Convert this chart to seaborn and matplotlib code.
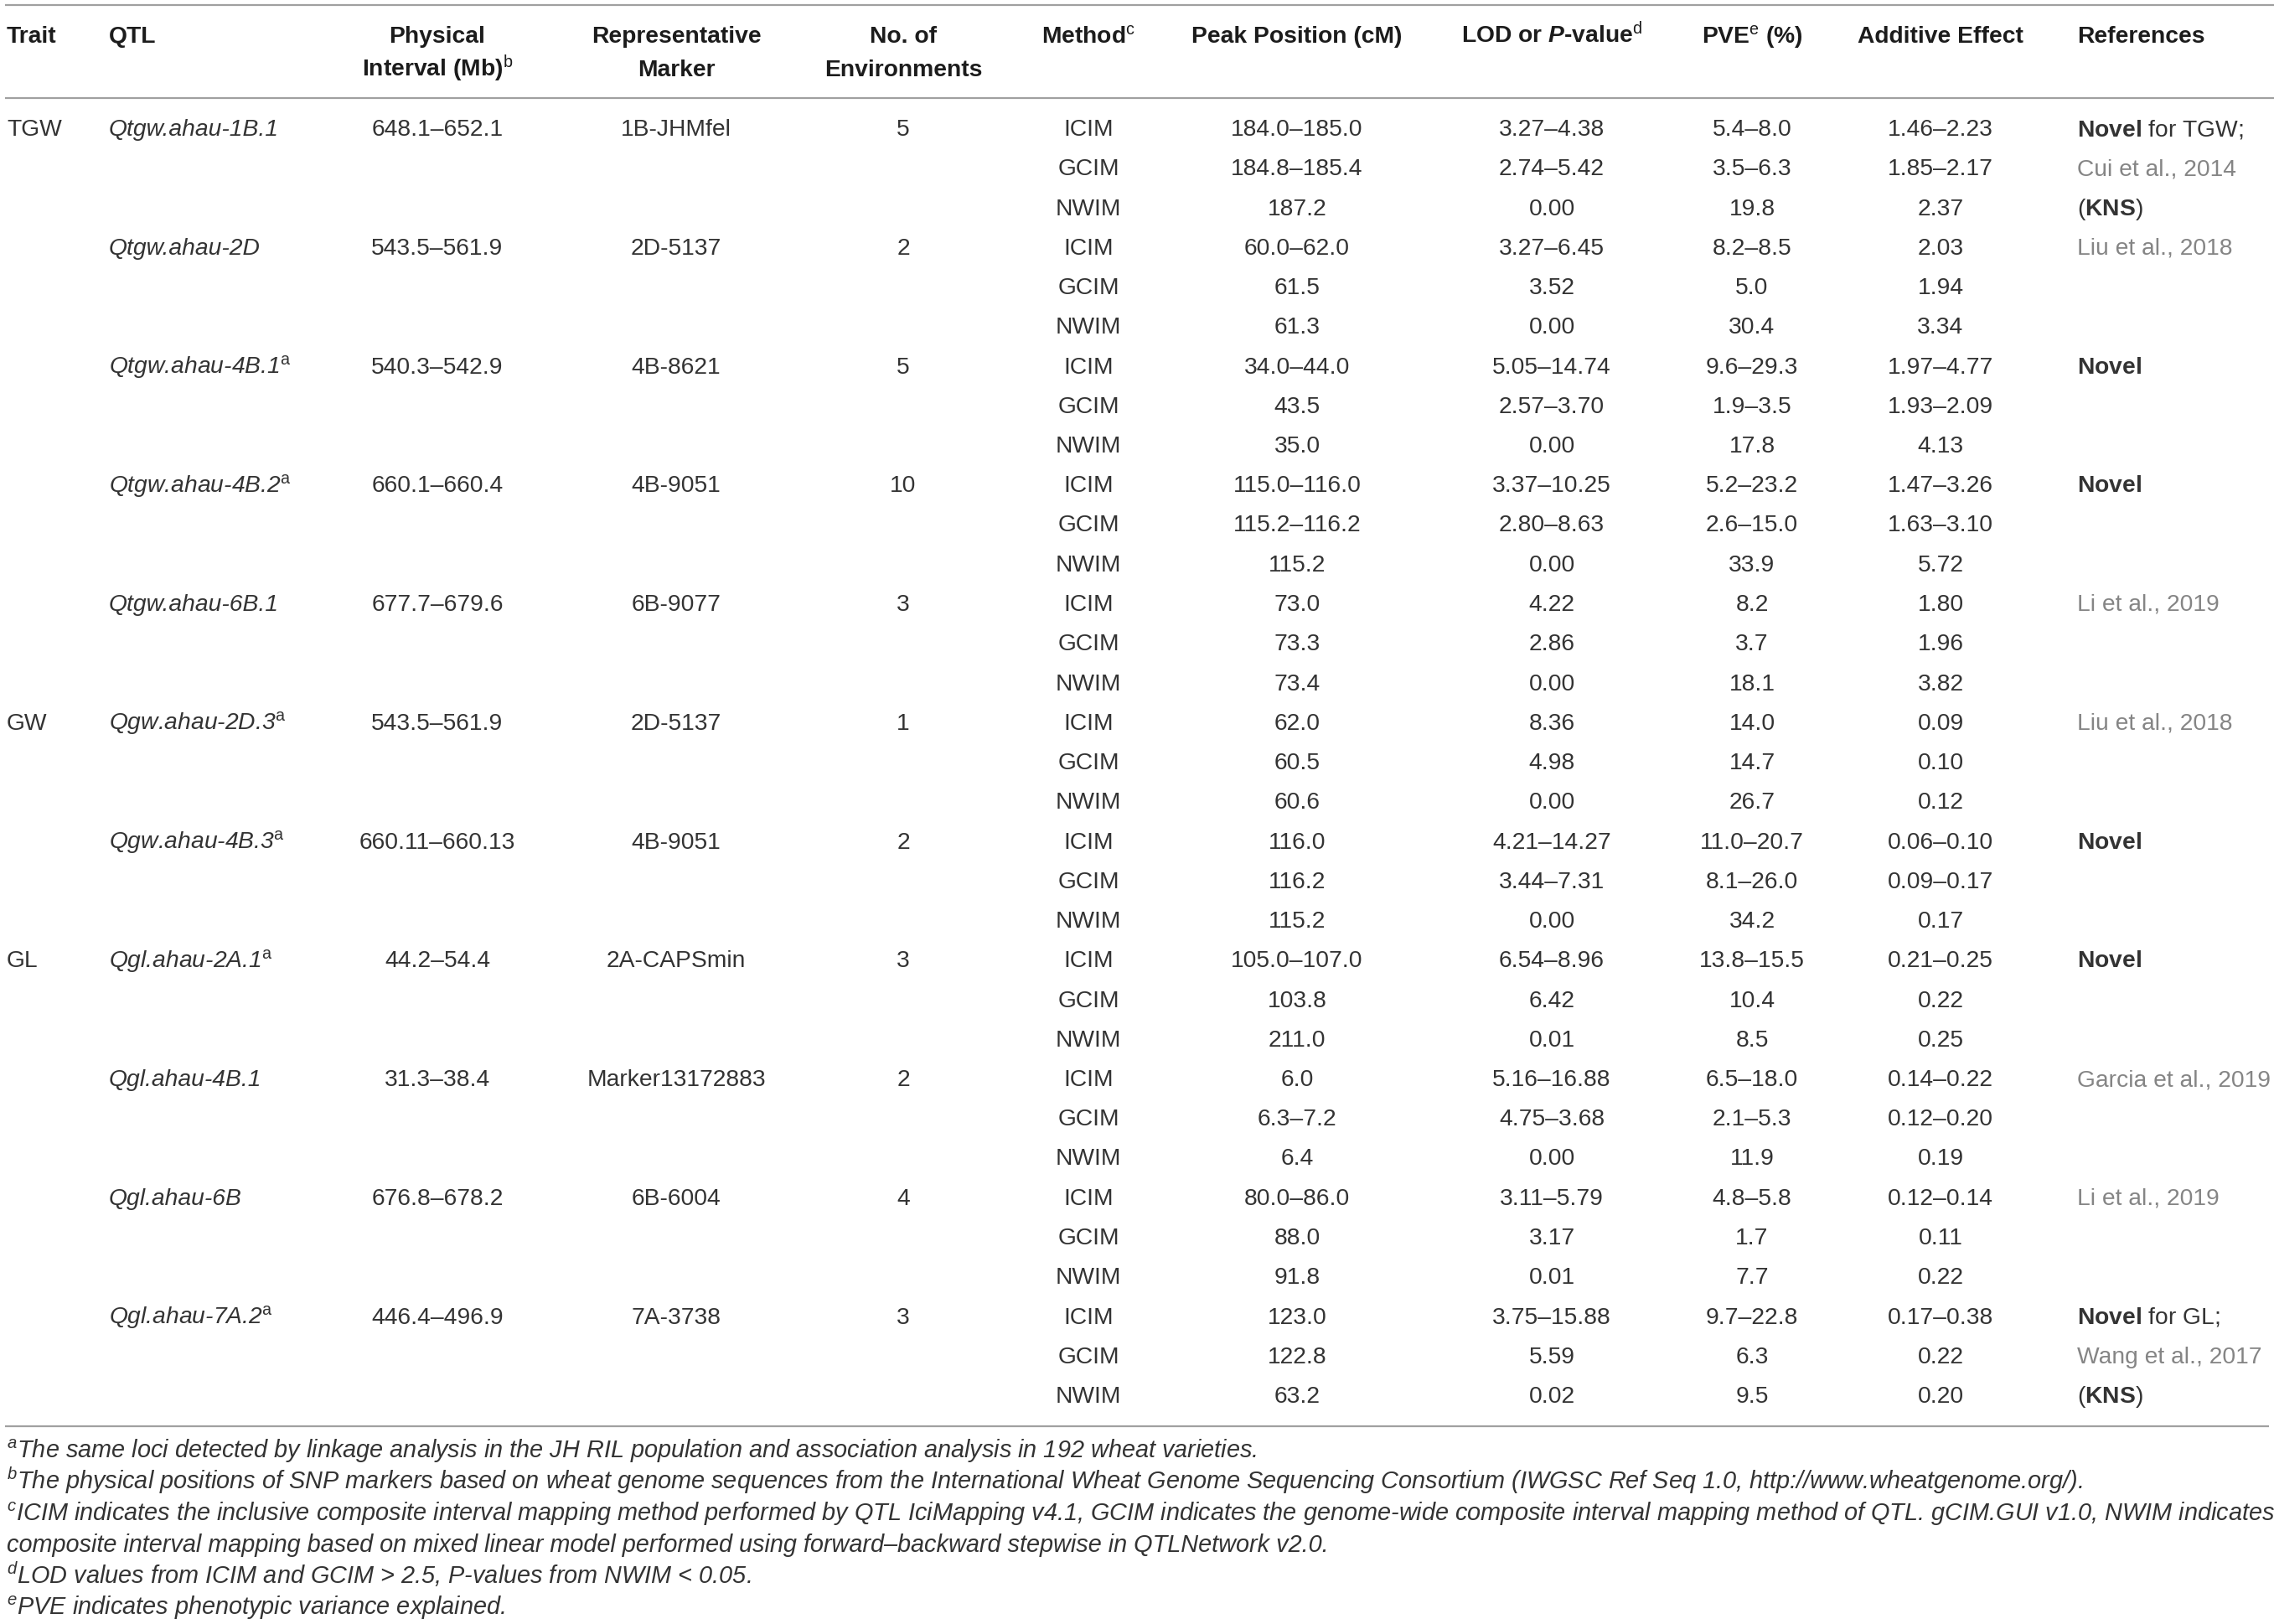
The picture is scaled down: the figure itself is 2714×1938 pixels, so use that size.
import pandas as pd
import matplotlib
matplotlib.use("Agg")
import matplotlib.pyplot as plt
import seaborn as sns

# -------------------------------
# 1. Table data
# -------------------------------
traits = ["TGW", "", "", "", "", "GW", "", "GL", "", "", ""]
qtl_names = ["Qtgw.ahau-1B.1", "Qtgw.ahau-2D", "Qtgw.ahau-4B.1", "Qtgw.ahau-4B.2",
             "Qtgw.ahau-6B.1", "Qgw.ahau-2D.3", "Qgw.ahau-4B.3", "Qgl.ahau-2A.1",
             "Qgl.ahau-4B.1", "Qgl.ahau-6B", "Qgl.ahau-7A.2"]
qtl_note_a = [False, False, True, True, False, True, True, True, False, False, True]
intervals = ["648.1–652.1", "543.5–561.9", "540.3–542.9", "660.1–660.4", "677.7–679.6",
             "543.5–561.9", "660.11–660.13", "44.2–54.4", "31.3–38.4", "676.8–678.2",
             "446.4–496.9"]
markers = ["1B-JHMfel", "2D-5137", "4B-8621", "4B-9051", "6B-9077", "2D-5137",
           "4B-9051", "2A-CAPSmin", "Marker13172883", "6B-6004", "7A-3738"]
n_envs = [5, 2, 5, 10, 3, 1, 2, 3, 2, 4, 3]
methods = ["ICIM", "GCIM", "NWIM"]

peak = ["184.0–185.0", "184.8–185.4", "187.2",
        "60.0–62.0", "61.5", "61.3",
        "34.0–44.0", "43.5", "35.0",
        "115.0–116.0", "115.2–116.2", "115.2",
        "73.0", "73.3", "73.4",
        "62.0", "60.5", "60.6",
        "116.0", "116.2", "115.2",
        "105.0–107.0", "103.8", "211.0",
        "6.0", "6.3–7.2", "6.4",
        "80.0–86.0", "88.0", "91.8",
        "123.0", "122.8", "63.2"]
lod = ["3.27–4.38", "2.74–5.42", "0.00",
       "3.27–6.45", "3.52", "0.00",
       "5.05–14.74", "2.57–3.70", "0.00",
       "3.37–10.25", "2.80–8.63", "0.00",
       "4.22", "2.86", "0.00",
       "8.36", "4.98", "0.00",
       "4.21–14.27", "3.44–7.31", "0.00",
       "6.54–8.96", "6.42", "0.01",
       "5.16–16.88", "4.75–3.68", "0.00",
       "3.11–5.79", "3.17", "0.01",
       "3.75–15.88", "5.59", "0.02"]
pve = ["5.4–8.0", "3.5–6.3", "19.8",
       "8.2–8.5", "5.0", "30.4",
       "9.6–29.3", "1.9–3.5", "17.8",
       "5.2–23.2", "2.6–15.0", "33.9",
       "8.2", "3.7", "18.1",
       "14.0", "14.7", "26.7",
       "11.0–20.7", "8.1–26.0", "34.2",
       "13.8–15.5", "10.4", "8.5",
       "6.5–18.0", "2.1–5.3", "11.9",
       "4.8–5.8", "1.7", "7.7",
       "9.7–22.8", "6.3", "9.5"]
additive = ["1.46–2.23", "1.85–2.17", "2.37",
            "2.03", "1.94", "3.34",
            "1.97–4.77", "1.93–2.09", "4.13",
            "1.47–3.26", "1.63–3.10", "5.72",
            "1.80", "1.96", "3.82",
            "0.09", "0.10", "0.12",
            "0.06–0.10", "0.09–0.17", "0.17",
            "0.21–0.25", "0.22", "0.25",
            "0.14–0.22", "0.12–0.20", "0.19",
            "0.12–0.14", "0.11", "0.22",
            "0.17–0.38", "0.22", "0.20"]
NOVEL = r"$\mathbf{Novel}$"
KNS = r"($\mathbf{KNS}$)"
references = [NOVEL + " for TGW;", "Cui et al., 2014", KNS,
              "Liu et al., 2018", "", "",
              NOVEL, "", "",
              NOVEL, "", "",
              "Li et al., 2019", "", "",
              "Liu et al., 2018", "", "",
              NOVEL, "", "",
              NOVEL, "", "",
              "Garcia et al., 2019", "", "",
              "Li et al., 2019", "", "",
              NOVEL + " for GL;", "Wang et al., 2017", KNS]

header_line1 = ["Trait", "QTL", "Physical", "Representative", "No. of", r"Method$^{\mathrm{c}}$",
                "Peak Position (cM)", r"LOD or $\mathbfit{P}$-value$^{\mathrm{d}}$",
                r"PVE$^{\mathrm{e}}$ (%)", "Additive Effect", "References"]
header_line2 = ["", "", r"Interval (Mb)$^{\mathrm{b}}$", "Marker", "Environments",
                "", "", "", "", "", ""]

footnotes = [
    r"$^{\mathit{a}}$The same loci detected by linkage analysis in the JH RIL population and association analysis in 192 wheat varieties.",
    r"$^{\mathit{b}}$The physical positions of SNP markers based on wheat genome sequences from the International Wheat Genome Sequencing Consortium (IWGSC Ref Seq 1.0, http://www.wheatgenome.org/).",
    r"$^{\mathit{c}}$ICIM indicates the inclusive composite interval mapping method performed by QTL IciMapping v4.1, GCIM indicates the genome-wide composite interval mapping method of QTL. gCIM.GUI v1.0, NWIM indicates",
    "composite interval mapping based on mixed linear model performed using forward–backward stepwise in QTLNetwork v2.0.",
    r"$^{\mathit{d}}$LOD values from ICIM and GCIM > 2.5, P-values from NWIM < 0.05.",
    r"$^{\mathit{e}}$PVE indicates phenotypic variance explained.",
]

# one row per method line
rows = pd.DataFrame({
    "group": [g for g in range(len(qtl_names)) for _ in methods],
    "method": methods * len(qtl_names),
    "peak": peak, "lod": lod, "pve": pve,
    "additive": additive, "ref": references,
})

# -------------------------------
# 2. Style
# -------------------------------
sns.set_theme(style="white")
plt.rcParams["font.family"] = ["Liberation Sans", "DejaVu Sans"]
plt.rcParams["mathtext.fontset"] = "custom"
plt.rcParams["mathtext.rm"] = "Liberation Sans"
plt.rcParams["mathtext.it"] = "Liberation Sans:italic"
plt.rcParams["mathtext.bf"] = "Liberation Sans:bold"
plt.rcParams["mathtext.bfit"] = "Liberation Sans:italic:bold"
plt.rcParams["mathtext.sf"] = "Liberation Sans"

TXT = "#333333"
HEAD = "#1c1c1c"
CITE = "#858585"
RULE = "#a0a0a0"
FS = 20.3
FS_NOTE = 20.8

# column x positions (pixels) and alignment
col_x = [8, 130, 522, 807, 1078, 1299, 1548, 1852, 2091, 2316, 2479]
col_ha = ["left", "left", "center", "center", "center", "center",
          "center", "center", "center", "center", "left"]

W, H = 2714, 1938
fig = plt.figure(figsize=(W / 100, H / 100), dpi=100)
ax = fig.add_axes([0, 0, 1, 1])
ax.set_xlim(0, W)
ax.set_ylim(H, 0)
ax.axis("off")

# rules
for yr, x1 in [(6, W), (117, W), (1702, 2708)]:
    ax.plot([6, x1], [yr, yr], color=RULE, lw=1.6, solid_capstyle="butt")

# header
for x, ha, l1, l2 in zip(col_x, col_ha, header_line1, header_line2):
    ax.text(x, 51, l1, ha=ha, va="baseline", fontsize=FS, fontweight="bold", color=HEAD)
    if l2:
        ax.text(x, 91, l2, ha=ha, va="baseline", fontsize=FS, fontweight="bold", color=HEAD)

# body
y0, dy = 162, 47.25
for i, r in rows.iterrows():
    y = y0 + dy * i
    g = r["group"]
    if r["method"] == methods[0]:
        if traits[g]:
            ax.text(col_x[0], y, traits[g], ha="left", va="baseline", fontsize=FS, color=TXT)
        name = qtl_names[g] + (r"$^{\mathrm{a}}$" if qtl_note_a[g] else "")
        ax.text(col_x[1], y, name, ha="left", va="baseline", fontsize=FS,
                style="italic", color=TXT)
        ax.text(col_x[2], y, intervals[g], ha="center", va="baseline", fontsize=FS, color=TXT)
        ax.text(col_x[3], y, markers[g], ha="center", va="baseline", fontsize=FS, color=TXT)
        ax.text(col_x[4], y, str(n_envs[g]), ha="center", va="baseline", fontsize=FS, color=TXT)
    for k, c in zip(range(5, 10), ["method", "peak", "lod", "pve", "additive"]):
        ax.text(col_x[k], y, r[c], ha="center", va="baseline", fontsize=FS, color=TXT)
    if r["ref"]:
        colr = CITE if "et al." in r["ref"] else TXT
        ax.text(col_x[10], y, r["ref"], ha="left", va="baseline", fontsize=FS, color=colr)

# footnotes
fy = [1740, 1777, 1815, 1852, 1890, 1927]
for yy, note in zip(fy, footnotes):
    ax.text(8, yy, note, ha="left", va="baseline", fontsize=FS_NOTE, style="italic", color=TXT)

fig.savefig("out.png", dpi=100, facecolor="white")
